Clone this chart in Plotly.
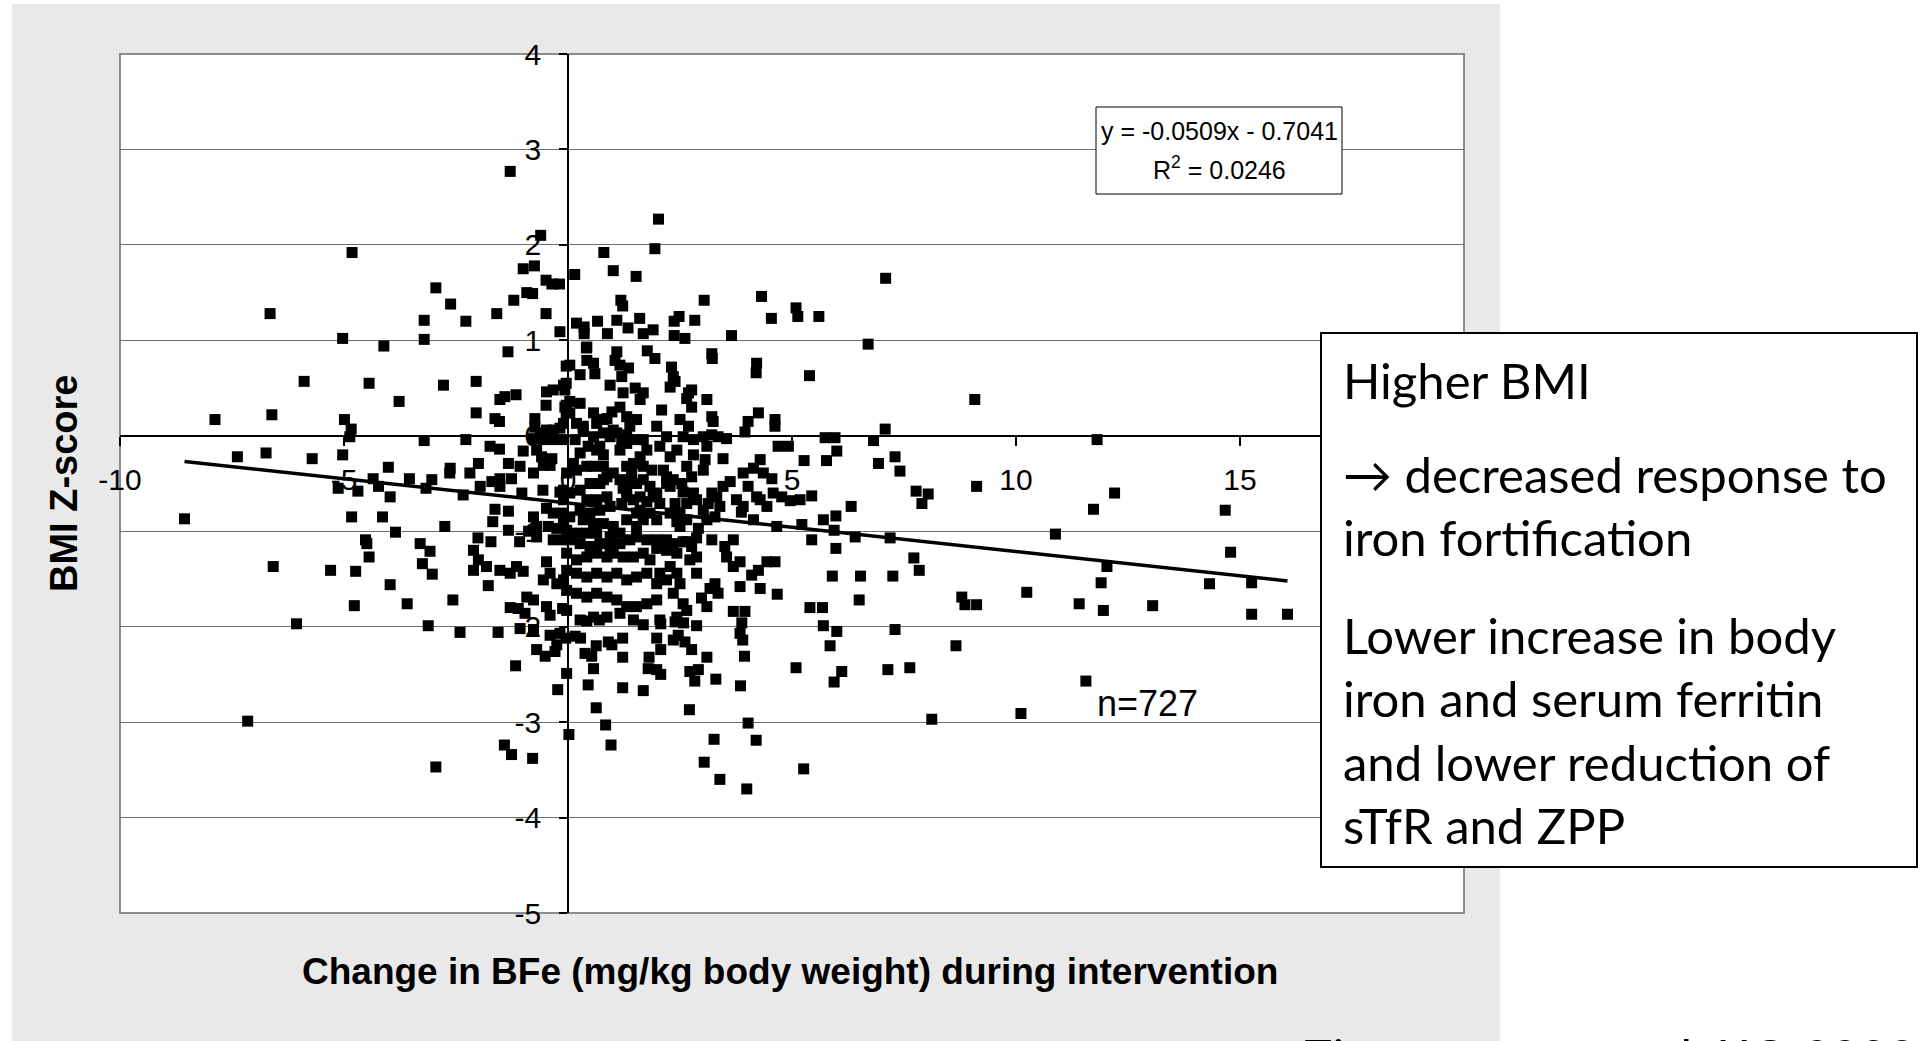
import plotly.graph_objects as go

# ---- data: change in body iron (mg/kg) vs BMI Z-score ----
bfe_change = [
    -1.29, -0.61, -4.82, -1.00, -0.75, -0.49, -0.36, -0.19, -0.92, -0.79, -1.21, -2.95, -2.62, -2.28, -1.59,
    -0.49, -0.18, -6.65, -3.21, -5.03, -4.11, -3.21, -1.34,
    2.02, 1.94, 0.80, 1.01, 1.52, 0.15, 7.09, 1.18, 1.22, 3.04, 4.32, 5.09, 5.13, 5.60, 4.54, 0.19, 0.36, 0.36,
    0.66, 0.88, 1.09, 1.34, 1.60, 1.68, 1.90, 2.37, 2.48, 2.37, 2.61, 2.83, 3.65, 6.70, 0.41, 1.09, 1.77, 3.21,
    -5.89, -4.44, -2.78, -2.05, -3.77, -1.52, -1.41, -1.16, -0.49, -0.04, -0.04, -0.48, -0.33, -0.10, -0.04,
    -0.04, -7.88, -6.61, -4.99, -4.84, -4.87, -2.05, -1.63, -1.53,
    -0.74, -0.74, -0.62, -0.48, -0.33, -0.18, -0.77, -0.55, -0.33, -0.10,
    -3.21, -2.28, -1.74, -1.53, -1.00, -0.70, -0.59, -0.36, -0.40,
    -7.38, -6.74, -5.71, -5.03, -4.01, -2.63, -2.64, -2.00, -2.19, -1.33, -1.07, -1.26, -0.77, -0.55, -1.70,
    -1.52, -1.52,
    -5.13, -4.69, -4.35, -4.23, -3.97, -3.54, -3.17, -3.04, -2.34, -1.96, -1.03, -0.56, -0.18, -0.10,
    -8.56, -4.83, -4.14, -2.75, -3.85, -1.63, -1.33, -1.68, -1.33, -0.77, -0.70, -0.88, -0.70,
    -0.48, -0.33, -0.44, -0.25, -0.10, -0.33, -0.10,
    -2.01, -1.72, -1.08, -4.52, -4.49, -4.44, -3.30, -3.08, -2.11, -2.00,
    -6.58, -5.30, -4.74, -3.25, -3.03, -2.11, -1.82, -1.52, -1.29, -1.15, -1.00, -1.78,
    -0.48, -0.55, -0.40, -0.25, -0.10, -0.03,
    -3.97, -3.59, -4.77, -2.57, -0.92, -0.77, -1.29, -1.11, -0.96, -0.48, -0.40, -0.12,
    -6.06, -3.12, -2.41, -1.56, -1.07, -0.77, -0.40, -0.18,
    -0.05, -0.70, -0.51, -0.29, -0.25, -1.17, -0.03, -0.23, -7.15, 0.02, -2.95, -1.42, -1.26, -0.79,
    0.84, 0.96, 0.63, 0.45, 1.22, 1.68, 2.71, 2.83, 3.30, 3.85, 4.02, 4.20, 3.26, 3.04, 3.39, 3.99, 5.26,
    5.09, 5.94, 6.11, 7.14, 7.63, 8.12, 8.66, 5.85, 7.30, 5.70, 6.00, 3.90, 3.84, 3.88, 3.94, 3.10, 2.72,
    2.91, 2.87, 2.35, 2.46, 2.61, 2.76, 2.39, 2.58, 1.68, 2.07, 1.98, 2.07, 1.81, 1.79, 1.98, 2.07, 1.22,
    1.22, 0.90, 0.98, 0.63, 0.38, 0.53, 0.57, 0.16, 0.28, 0.42, 0.70,
    11.81, 12.20, 11.73, 10.88, 12.03, 11.90, 10.24, 11.41, 11.95, 13.05, 14.32, 14.67, 14.79, 15.26, 15.26,
    16.06, 11.56, 10.11,
    3.22, 4.21, 4.20, 5.39, 9.08, 7.08, 6.82, 5.74, 5.96, 6.00, 5.77, 5.27, 4.69, 4.92, 4.62, 4.62, 4.25,
    3.95, 4.02, 3.46, 6.93, 7.30, 7.41, 7.77, 7.90, 8.04, 9.12, 6.32, 5.98, 5.70, 5.44, 5.18, 4.96, 4.77,
    4.58, 4.29, 4.14, 4.36, 4.55, 3.91, 4.02, 4.21, 4.44, 4.29, 3.76, 3.87, 3.91, 4.14, 4.66, 5.22, 5.94,
    6.41, 7.19, 5.44, 5.98, 7.72, 7.84, 5.90, 6.53, 7.25, 6.50, 5.40, 5.68, 8.79, 8.86, 9.12, 4.67, 4.29,
    4.10, 4.25, 4.44, 4.62, 3.84, 3.84, 3.69, 3.54, 3.50, 3.69, 3.21, 3.28, 3.17, 3.35, 2.98, 3.10, 3.69,
    3.95, 2.87, 2.87, 2.72, 2.76, 2.87, 2.65, 2.91, 3.39, 3.28, 3.32, 3.46, 3.62, 3.21, 3.13, 3.02, 3.10,
    2.87, 2.80, 2.65, 2.50, 2.39, 2.57, 2.28, 2.54, 2.76, 2.65, 2.80, 2.80, 3.02, 3.06, 3.10, 3.02, 3.35,
    3.54, 3.21, 3.10, 3.21, 3.24, 2.76, 2.69, 2.50, 2.69, 2.57, 2.35, 2.28, 2.39, 2.31, 1.94, 2.09, 1.98,
    2.20, 2.05, 1.87, 2.28, 2.43, 2.20, 2.35, 2.05, 1.90, 1.76, 1.61, 1.46, 1.31, 1.20, 1.53, 1.38, 1.42,
    1.23, 1.53, 1.68, 1.53, 1.31, 1.76, 1.61, 1.53, 1.31, 1.16, 1.38, 1.53, 1.31, 1.16, 1.23, 1.50, 1.68,
    1.61, 0.94, 1.20, 1.05, 1.16, 1.35, 0.42, 0.42, 0.57, 0.60, 0.04, 0.27, 0.98, 0.87, 1.01, 0.79, 0.57,
    0.45, 0.64, 0.79, 0.34, 0.19, 0.04, -0.07, -0.10, 0.16, 0.27, 0.12, -0.03, 0.19, 0.42, 0.57, 0.79,
    0.87, 0.71, 0.49, 0.27, 0.04, -0.10, 0.42, 0.64, 0.87, 0.94, 0.71, 0.49, 0.27, 0.04, -0.10, 0.34, 0.57,
    0.79, 1.01, 1.16, 0.94, 0.64, 0.42, 0.19, -0.03,
    0.04, 0.27, 0.49, 0.71, 0.94, 1.16, 1.38, 1.53, 1.76, 1.98, 2.20, 2.35, 2.57, 2.43, 2.20, 1.98,
    -0.03, 0.19, 0.42, 0.64, 0.87, 1.01, 1.23, 1.46, 1.68, 1.83,
    0.19, 0.42, 0.64, 0.87, 1.09, 1.31, 1.53, 1.76, 2.05, 2.28, 2.43, 2.20, 1.98,
    -0.03, 0.19, 0.42, 0.64, 0.87, 1.09, 1.31, 1.53, 1.76, 1.98, 2.35, 2.50, 2.57, 2.65, 2.43, 2.05, 1.46,
    1.16, 0.87, 0.57, 0.27, -0.03,
    2.65, 2.76, -0.07, 0.04, 0.27, 0.34, 0.57, 0.64, 0.79, 0.71, 0.94, 1.09, 1.20, 1.31, 1.68, 0.79, 1.01,
    1.16, 1.31, 1.68, 1.83, 1.98, 1.31, 1.46, 1.68, 2.13, 2.20, 2.28, 2.43, 2.50, 2.65, 1.61, 1.83, 1.98,
]

bmi_z = [
    2.77, 2.10, 1.92, 1.75, 1.78, 1.63, 1.59, 1.59, 1.50, 1.49, 1.42, 1.55, 1.38, 1.20, 1.28,
    1.28, 1.09, 1.28, 1.21, 1.02, 0.94, 1.01, 0.88,
    2.27, 1.96, 1.92, 1.73, 1.67, 1.69, 1.65, 1.42, 1.36, 1.42, 1.46, 1.34, 1.25, 1.25, 1.23, 1.18, 1.14, 1.07,
    1.20, 1.07, 1.21, 1.13, 1.23, 1.07, 1.11, 1.20, 1.25, 1.05, 1.02, 1.21, 1.05, 0.96, 0.92, 0.88, 0.89, 0.86,
    0.57, 0.55, 0.53, 0.57, 0.36, 0.38, 0.41, 0.43, 0.32, 0.73, 0.55, 0.46, 0.48, 0.53, 0.32,
    0.24, 0.17, 0.22, 0.17, 0.07, -0.01, 0.24, 0.18, 0.15,
    0.18, 0.09, 0.03, 0.06, 0.06, 0.08, -0.03, -0.04, -0.04, -0.04,
    -0.05, -0.04, -0.11, -0.14, -0.16, -0.15, -0.22, -0.24, -0.31,
    -0.22, -0.18, -0.24, -0.20, -0.33, -0.34, -0.39, -0.29, -0.39, -0.29, -0.32, -0.45, -0.39, -0.31, -0.48,
    -0.45, -0.53,
    -0.55, -0.58, -0.45, -0.53, -0.64, -0.45, -0.55, -0.46, -0.62, -0.53, -0.60, -0.57, -0.59, -0.67,
    -0.87, -0.85, -0.85, -0.95, -1.01, -0.77, -0.79, -0.90, -0.99, -0.85, -0.95, -1.00, -1.06,
    -0.76, -0.81, -0.95, -0.97, -0.88, -1.09, -1.09,
    -1.07, -1.11, -1.11, -1.09, -1.13, -1.27, -1.13, -1.21, -1.20, -1.30,
    -1.37, -1.41, -1.42, -1.34, -1.45, -1.41, -1.37, -1.41, -1.44, -1.37, -1.42, -1.57,
    -1.32, -1.51, -1.44, -1.55, -1.51, -1.41,
    -1.56, -1.76, -1.78, -1.72, -1.69, -1.72, -1.80, -1.81, -1.86, -1.79, -1.88, -1.81,
    -1.97, -1.99, -2.06, -2.06, -2.02, -2.03, -2.09, -2.07,
    -2.12, -2.24, -2.31, -2.26, -2.19, -2.41, -2.49, -2.66, -2.99, -3.13, -3.47, -3.24, -3.34, -3.38,
    -3.03, -3.24, -2.85, -2.61, -2.64, -2.67, -2.87, -2.57, -2.55, -2.62, -3.01, -3.19, -3.18, -3.42, -3.60, -3.70, -3.49,
    -2.43, -2.58, -2.47, -2.45, -2.43, -2.97, -2.20, -2.20, -2.03, -1.99, -2.05, -2.14, -2.07, -1.96, -2.31, -2.32, -2.47,
    -2.45, -1.99, -2.14, -2.09, -2.16, -2.24, -1.95, -1.96, -1.98, -1.97, -2.12, -2.24, -2.32, -2.44, -2.45, -2.50, -2.12,
    -2.32, -2.16, -2.19, -2.20, -2.28, -2.31, -2.44, -2.10, -2.12, -1.94, -1.93,
    -0.04, -0.60, -0.77, -1.03, -1.37, -1.54, -1.64, -1.76, -1.83, -1.78, -1.55, -0.78, -1.22, -1.54, -1.87,
    -1.87, -2.57, -2.91,
    0.81, 0.76, 0.66, 0.63, 0.38, 0.07, -0.05, -0.02, -0.02, -0.16, -0.26, -0.26, -0.11, -0.11, 0.17, 0.10, 0.24,
    0.04, 0.15, -0.24, -0.29, -0.22, -0.37, -0.58, -0.71, -0.61, -0.53, -0.74, -0.84, -0.88, -0.63, -0.67, -0.68, -0.64,
    -0.60, -0.25, -0.34, -0.39, -0.45, -0.39, -0.53, -0.64, -0.74, -0.67, -0.67, -0.80, -0.74, -0.88, -0.95, -0.93, -0.99,
    -1.06, -1.07, -1.09, -1.18, -1.28, -1.41, -1.47, -1.47, -1.47, -1.72, -1.80, -1.80, -1.69, -1.77, -1.77, -1.66, -1.60,
    -1.46, -1.41, -1.32, -1.32, -1.58, -1.32, -1.37, -1.27, -1.16, -1.09, -1.09, -1.55, -1.60, -1.65, -1.70, -1.79, -1.84,
    -1.84, -1.44, -1.27, -1.30, -1.16, -1.07, -1.11, -0.97, -0.74, -0.85, -0.64, -0.53, -0.48, -0.60, -0.71, -0.78, -0.88,
    -0.67, -0.60, -0.71, -0.81, -0.71, -0.59, -0.53, -0.50, -0.43, -0.32, -0.20, -0.04, -0.36, -0.25, -0.11, -0.01, -0.01,
    -0.03, 0.01, 0.38, 0.20, 0.15, 0.48, 0.45, 0.17, 0.10, -0.01, 0.62, 0.51, 0.57, 0.72, 0.81, 0.27, 0.10,
    -0.01, -0.11, -0.36, -0.22, -0.15, -0.50, -0.46, -0.71, -0.64, -0.69, -0.64, -0.67, -0.64, -0.71, -0.50, -0.46, -0.39,
    -0.55, -0.81, -0.88, -0.95, -0.88, -0.15, -0.22, -0.04, -0.08, -0.15, 0.10, 0.17, 0.20, 0.30, 0.45, 0.50, 0.45,
    0.38, 0.53, 0.62, 0.79, 0.74, 0.71, 0.93, 0.79, 0.76, 0.65, 0.74, 0.64, 0.25, 0.18, 0.06, 0.03, -0.01,
    -0.11, -0.15, -0.20, 0.06, 0.13, 0.24, 0.30, 0.13, -0.04, -0.18, -0.29, -0.39, -0.36, -0.32, -0.32, -0.32,
    -0.43, -0.50, -0.50, -0.57, -0.60, -0.57, -0.67, -0.67, -0.64, -0.74, -0.78, -0.81, -0.78, -0.85, -0.81, -0.88, -0.92,
    -0.92, -0.95, -1.02, -1.06, -1.02, -1.02, -1.02, -0.99,
    -1.09, -1.13, -1.16, -1.13, -1.16, -1.13, -1.09, -1.06, -1.09, -1.09, -1.09, -1.13, -1.11, -1.23, -1.20, -1.18,
    -1.23, -1.30, -1.27, -1.23, -1.27, -1.23, -1.27, -1.27, -1.23, -1.30,
    -1.44, -1.48, -1.44, -1.48, -1.44, -1.51, -1.48, -1.44, -1.44, -1.37, -1.44, -1.51, -1.55,
    -1.62, -1.65, -1.69, -1.65, -1.69, -1.72, -1.79, -1.79, -1.76, -1.72, -1.65, -1.55, -1.76, -1.83, -1.90, -1.93, -1.93,
    -1.86, -1.90, -1.90, -1.93, -1.83,
    0.39, 0.30, 0.48, 0.36, 0.34, 0.10, 0.24, 0.13, 0.17, -0.11, -0.01, 0.03, -0.04, 0.01, -0.04, -0.46, -0.39,
    -0.46, -0.57, -0.46, -0.53, -0.60, -0.32, -0.29, -0.32, -0.36, -0.43, -0.81, -0.90, -0.95, -0.88, -0.78, -0.81, -0.88,
]

# Linear fit reported on the chart
slope = -0.0509
intercept = -0.7041
r_squared = 0.0246
n_subjects = 727

# the label at x = 20 sits under the commentary box, so only these are drawn
x_ticks = [-10, -5, 0, 5, 10, 15]
y_ticks = [4, 3, 2, 1, 0, -1, -2, -3, -4, -5]

box_lines = [
    "Higher BMI",
    "\u2192 decreased response to",
    "iron fortification",
    "Lower increase in body",
    "iron and serum ferritin",
    "and lower reduction of",
    "sTfR and ZPP",
]
box_line_y = [380, 474, 537, 635, 698, 762, 825]
citation = "Zimmermann et al. IJO 2008"

# ---- page geometry (pixels) ----
W, H = 1921, 1041
L, R, T, B = 120, 1464, 54, 913
ARIAL = "Arial, Liberation Sans, sans-serif"
BODY = "Lato, Carlito, Calibri, sans-serif"


def px(xp):
    return (xp - L) / (R - L)


def py(yp):
    return (B - yp) / (B - T)


fig = go.Figure()

fig.add_trace(go.Scatter(
    x=bfe_change, y=bmi_z, mode="markers",
    marker=dict(symbol="square", size=11, color="black", line=dict(width=0)),
    showlegend=False, hoverinfo="x+y",
))

x_fit = [min(bfe_change), max(bfe_change)]
y_fit = [slope * v + intercept for v in x_fit]
fig.add_trace(go.Scatter(
    x=x_fit, y=y_fit, mode="lines",
    line=dict(color="black", width=3.5),
    showlegend=False, hoverinfo="skip",
))

shapes = [
    # grey chart panel
    dict(type="rect", xref="paper", yref="paper", x0=px(12), x1=px(1500), y0=py(1060), y1=py(4),
         fillcolor="#e9e9e9", line=dict(width=0), layer="below"),
    # white plotting area
    dict(type="rect", xref="paper", yref="paper", x0=0, x1=1, y0=0, y1=1,
         fillcolor="white", line=dict(color="#8c8c8c", width=2), layer="below"),
    # regression equation box
    dict(type="rect", xref="paper", yref="paper", x0=px(1096), x1=px(1342), y0=py(194), y1=py(107),
         fillcolor="white", line=dict(color="black", width=1), layer="above"),
    # commentary box
    dict(type="rect", xref="paper", yref="paper", x0=px(1321), x1=px(1917), y0=py(867), y1=py(333),
         fillcolor="white", line=dict(color="black", width=2), layer="above"),
]

annotations = [
    dict(text=f"y = {slope:.4f}x - {abs(intercept):.4f}", x=px(1219), y=py(131),
         font=dict(family=ARIAL, size=25, color="black")),
    dict(text=f"R<sup>2</sup> = {r_squared:.4f}", x=px(1219), y=py(168),
         font=dict(family=ARIAL, size=25, color="black")),
    dict(text=f"n={n_subjects}", x=px(1095), y=py(703), xanchor="left",
         font=dict(family=ARIAL, size=36, color="black")),
    dict(text="<b>BMI Z-score</b>", x=px(64), y=py(484), textangle=-90,
         font=dict(family=ARIAL, size=38, color="black")),
    dict(text="<b>Change in BFe (mg/kg body weight) during intervention</b>", x=px(790), y=py(971),
         font=dict(family=ARIAL, size=37, color="black")),
    dict(text=citation, x=px(1301), y=py(1056), xanchor="left",
         font=dict(family=BODY, size=49, color="black")),
]
for line, yy in zip(box_lines, box_line_y):
    annotations.append(dict(text=line, x=px(1341), y=py(yy), xanchor="left",
                            font=dict(family=BODY, size=49, color="black")))
for a in annotations:
    a.setdefault("xref", "paper")
    a.setdefault("yref", "paper")
    a.setdefault("showarrow", False)
    a.setdefault("xanchor", "center")
    a.setdefault("yanchor", "middle")

fig.update_layout(
    width=W, height=H, autosize=False,
    margin=dict(l=L, r=W - R, t=T, b=H - B, pad=0),
    paper_bgcolor="white", plot_bgcolor="rgba(0,0,0,0)",
    shapes=shapes, annotations=annotations, showlegend=False,
    xaxis=dict(
        range=[-10, 20], tickvals=x_ticks, ticktext=[str(v) for v in x_ticks],
        showgrid=False, zeroline=False, showline=True, linecolor="black", linewidth=1.5,
        ticks="outside", ticklen=9, tickwidth=1.5, tickcolor="black",
        tickfont=dict(family=ARIAL, size=30, color="black"),
        anchor="free", position=5 / 9, layer="below traces", ticklabelstandoff=8,
    ),
    yaxis=dict(
        range=[-5, 4], tickvals=y_ticks, ticktext=[str(v) for v in y_ticks],
        showgrid=True, gridcolor="#6e6e6e", gridwidth=1, zeroline=False,
        showline=True, linecolor="black", linewidth=1.5,
        ticks="outside", ticklen=8, tickwidth=1.5, tickcolor="black",
        tickfont=dict(family=ARIAL, size=30, color="black"),
        anchor="free", position=1 / 3, layer="below traces", ticklabelstandoff=12,
    ),
)

fig.write_html("out.html")
